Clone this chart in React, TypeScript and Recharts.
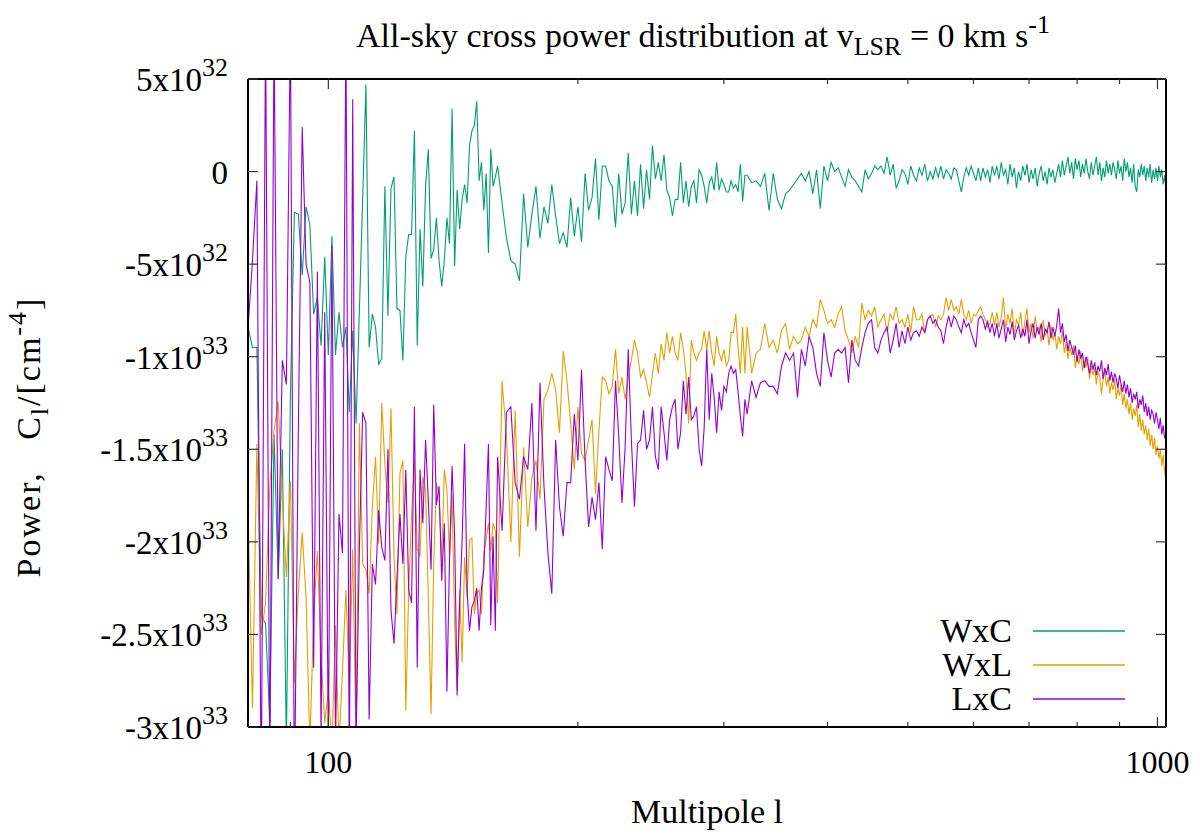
import React from 'react';
import { LineChart, Line, XAxis, YAxis, Legend } from 'recharts';

const FONT = '"Liberation Serif", "Times New Roman", serif';
const GREEN = '#009e73';
const ORANGE = '#e69f00';
const PURPLE = '#9400d3';

// power values are typed in units of 1e32 cm^-4
const UNIT = 1e32;

// segment A: l = 80..159, every multipole
const WXC_A = [
  -8.4, -9.5, -9.5, -24.0, -24.4, -29.7, -14.2, -22.0, -15.0, -31.0,
  -12.0, -2.2, -2.3, -5.6, -1.9, -2.9, -7.7, -6.8, -9.4, -4.6,
  -9.9, -3.5, -9.9, -7.6, -9.5, -8.4, -13.0, -8.6, -13.6, -7.5,
  -1.5, 4.7, -9.5, -7.7, -8.4, -10.4, -10.1, -0.8, -7.8, -0.9,
  -0.3, -7.4, -7.5, -10.2, -4.6, -3.4, -3.4, 2.2, -9.4, -3.1,
  -6.2, -0.8, 1.2, -4.7, -4.2, -2.5, -4.8, -6.2, -4.8, -2.5,
  -3.9, 3.4, -5.1, -1.0, -3.1, -1.5, -0.7, -1.7, 1.4, 2.2,
  2.5, 3.8, -0.5, 0.5, -2.1, -0.1, -4.4, 1.2, -0.8, -0.3,
];
const WXL_A = [
  -18.0, -29.0, -14.7, -25.0, -23.3, -17.0, -14.0, -12.4, -17.7, -21.9,
  -16.7, -27.6, -22.7, -19.5, -23.0, -31.0, -24.0, -20.5, -26.2, -29.8,
  -28.0, -31.0, -24.5, -31.0, -27.0, -22.6, -27.8, -20.4, -31.0, -13.6,
  -21.2, -21.5, -22.8, -18.1, -15.4, -20.1, -12.5, -15.8, -17.9, -12.8,
  -20.8, -23.9, -16.3, -15.6, -29.1, -22.6, -18.6, -15.6, -20.4, -20.8,
  -16.5, -17.2, -23.0, -29.3, -21.2, -16.8, -17.5, -21.2, -16.1, -17.2,
  -20.8, -17.5, -24.4, -28.0, -22.6, -26.5, -20.8, -23.0, -19.9, -19.8,
  -23.9, -22.8, -22.6, -23.9, -20.6, -19.9, -19.0, -20.5, -19.0, -19.4,
];
const LXC_A = [
  -8.5, -4.8, -0.5, -34.0, 8.0, -33.0, 8.0, -22.0, -10.2, -11.5,
  8.0, -34.0, -14.0, 2.4, -5.0, -6.0, -26.8, -5.4, -30.5, -7.6,
  -31.0, -4.0, -31.0, -18.5, -20.6, 8.0, -33.0, 3.9, -31.0, -20.3,
  -13.0, -13.6, -29.6, -21.2, -22.3, -18.3, -20.3, -21.0, -15.0, -23.7,
  -25.5, -21.9, -18.5, -21.2, -16.1, -22.6, -23.3, -12.7, -26.8, -16.1,
  -19.0, -14.5, -17.8, -21.5, -12.6, -18.0, -17.0, -22.1, -19.0, -28.1,
  -21.0, -15.9, -19.7, -28.3, -23.3, -19.9, -14.7, -22.6, -24.8, -23.5,
  -23.2, -22.5, -24.8, -22.5, -21.5, -18.1, -14.7, -24.5, -19.7, -24.8,
];

// segment B: l = 160..318, every 2nd multipole
const WXC_B = [
  0.3, -1.7, -3.6, -4.8, -5.0, -5.9, -1.2, -4.1, -2.3, -0.8,
  -3.6, -1.9, -2.8, -0.7, -2.4, -3.9, -3.3, -4.1, -1.4, -3.5,
  -1.9, -3.8, -0.1, -2.1, -1.4, 0.7, -2.6, 0.3, 0.3, -0.5,
  -0.8, -3.0, -0.1, -2.3, -1.7, 1.0, -2.3, -0.5, -2.4, 0.4,
  -2.0, 0.1, -1.5, 1.4, -0.4, 0.5, -0.5, 0.9, -1.0, -1.4,
  -2.4, -1.5, -1.5, 0.5, -1.7, -0.5, -1.9, -0.8, -0.5, -1.7,
  0.1, -0.2, -0.8, -1.7, -0.6, -0.3, -1.0, 0.5, -1.0, -0.4,
  -0.7, -1.1, -1.1, -0.5, -0.9, -0.7, -1.1, 0.4, -1.6, -0.2,
];
const WXL_B = [
  -23.3, -11.3, -14.3, -20.0, -12.9, -20.8, -14.9, -19.2, -16.5, -15.6,
  -17.7, -12.3, -11.8, -10.9, -11.8, -14.1, -9.7, -11.3, -13.6, -16.1,
  -12.7, -15.2, -15.6, -14.5, -13.4, -17.4, -14.0, -11.1, -11.3, -12.0,
  -11.6, -9.6, -12.0, -11.1, -12.3, -11.1, -10.2, -9.1, -9.8, -11.1,
  -10.7, -11.4, -12.2, -10.9, -9.8, -10.9, -9.3, -10.2, -8.7, -9.8,
  -8.9, -9.8, -10.2, -8.7, -9.6, -10.9, -13.6, -9.1, -9.8, -10.2,
  -9.8, -9.6, -8.6, -9.6, -8.6, -9.8, -10.5, -8.9, -9.8, -10.2,
  -9.6, -10.5, -10.2, -8.7, -8.7, -7.7, -9.5, -10.9, -8.4, -10.9,
];
const LXC_B = [
  -15.4, -19.4, -13.0, -12.7, -16.8, -17.7, -15.4, -16.1, -12.5, -19.4,
  -11.4, -17.0, -20.6, -22.8, -14.5, -18.1, -19.7, -16.8, -16.8, -13.1,
  -15.6, -10.7, -15.6, -19.2, -17.6, -18.8, -16.8, -20.4, -15.4, -16.1,
  -16.7, -11.3, -14.3, -17.9, -14.9, -9.6, -14.5, -18.1, -14.7, -14.5,
  -12.9, -15.0, -14.5, -12.7, -15.4, -16.1, -12.7, -14.1, -15.6, -13.4,
  -12.7, -12.3, -15.0, -14.1, -11.3, -13.1, -11.1, -13.4, -13.2, -12.7,
  -15.0, -15.9, -13.8, -9.6, -13.4, -10.9, -12.2, -14.1, -11.9, -12.9,
  -11.6, -11.9, -10.9, -10.5, -10.9, -10.7, -11.9, -13.2, -14.3, -12.3,
];

// segment C: l = 320..636, every 4th multipole
const WXC_C = [
  -0.2, -0.6, -0.5, -0.8, -0.1, -2.1, -0.1, -1.5, -2.0, -1.2,
  -1.0, -0.7, -0.4, -0.1, -0.5, 0.0, -1.2, 0.1, -2.0, 0.3,
  -0.5, 0.5, 0.0, 0.2, -0.3, -0.8, 0.1, -0.3, -0.5, -0.8,
  -1.1, 0.1, -0.4, -0.1, 0.3, 0.1, 0.3, -0.1, 0.8, -0.2,
  0.4, -0.9, -0.5, 0.1, -0.1, -0.7, 0.3, -0.2, -0.5, 0.2,
  -0.2, 0.4, -0.5, 0.0, -0.4, 0.2, -0.3, 0.3, -0.4, 0.1,
  -0.1, -0.4, 0.2, 0.1, -0.5, -1.1, -0.3, 0.2, -0.2, 0.3,
  -0.1, -0.5, 0.2, -0.5, 0.2, -0.3, 0.1, -0.6, 0.3, -0.2,
];
const WXL_C = [
  -8.4, -10.9, -9.8, -9.6, -8.2, -9.5, -9.1, -9.8, -8.6, -8.2,
  -9.6, -8.9, -9.3, -9.1, -8.4, -8.9, -8.0, -8.4, -6.9, -7.5,
  -8.2, -8.0, -8.4, -7.7, -7.3, -8.6, -9.1, -9.8, -8.9, -9.5,
  -7.1, -8.0, -7.5, -7.8, -7.3, -8.4, -8.0, -7.7, -8.7, -7.7,
  -8.0, -7.3, -8.2, -8.0, -8.4, -7.7, -8.7, -7.3, -8.0, -8.0,
  -7.7, -8.7, -8.0, -7.8, -7.7, -8.4, -7.8, -8.0, -7.7, -6.8,
  -7.5, -6.9, -7.5, -7.3, -7.7, -6.9, -7.7, -8.0, -7.5, -8.2,
  -7.7, -7.8, -7.5, -7.3, -7.7, -8.0, -8.4, -8.2, -7.6, -8.3,
];
const LXC_C = [
  -13.1, -11.3, -12.2, -11.4, -11.3, -11.6, -11.6, -12.0, -10.5, -9.8,
  -10.2, -9.8, -12.2, -9.6, -10.5, -8.9, -9.5, -10.9, -11.6, -8.7,
  -10.2, -11.1, -9.8, -9.6, -9.8, -9.5, -11.4, -9.1, -10.2, -10.5,
  -9.5, -8.7, -8.2, -8.0, -9.5, -9.8, -9.1, -8.7, -8.4, -9.8,
  -9.1, -8.2, -9.5, -8.6, -9.3, -8.4, -9.1, -8.7, -8.6, -8.9,
  -8.4, -8.7, -8.0, -7.8, -8.2, -8.0, -8.4, -8.6, -9.3, -8.4,
  -7.8, -8.4, -7.8, -8.0, -8.4, -8.7, -8.0, -8.4, -8.2, -8.7,
  -9.1, -9.5, -8.0, -7.8, -8.0, -8.5, -8.1, -8.7, -8.2, -8.9,
];

// segment D: l = 640..1024, every 4th multipole
const WXC_D = [
  0.3, -0.4, 0.5, -0.2, 0.1, -0.7, 0.4, -0.3, 0.2, -0.9,
  0.0, -0.5, 0.3, -0.2, 0.4, -0.6, 0.1, -0.4, 0.2, -0.8,
  -0.1, 0.3, -0.5, 0.0, -0.7, 0.2, -0.3, 0.1, -0.6, -0.1,
  0.4, -0.3, 0.6, -0.2, 0.3, 0.8, -0.1, 0.5, -0.4, 0.7,
  0.1, 0.6, -0.3, 0.4, -0.1, 0.7, 0.0, -0.4, 0.5, -0.2,
  0.3, 0.8, -0.2, 0.5, -0.5, 0.2, -0.3, 0.6, -0.1, 0.4,
  -0.2, 0.5, 0.1, -0.4, 0.6, -0.1, 0.3, -0.5, 0.7, 0.0,
  0.5, -0.3, 0.2, -0.6, 0.4, -0.8, -1.1, 0.1, -0.3, 0.4,
  -0.2, 0.3, -0.5, 0.2, -0.3, 0.4, -0.6, 0.1, -0.4, 0.2,
  -0.5, 0.3, -0.3, 0.1, -0.7, -0.2, -1.0,
];
const WXL_D = [
  -7.6, -8.4, -7.9, -6.8, -8.5, -7.7, -8.2, -7.4, -8.8, -8.0,
  -8.3, -7.6, -8.9, -8.1, -7.4, -8.7, -8.2, -9.0, -7.8, -8.6,
  -8.4, -9.2, -8.0, -8.9, -8.5, -9.4, -8.3, -9.1, -8.7, -9.6,
  -8.9, -9.3, -8.6, -9.8, -9.2, -10.1, -9.5, -9.9, -9.4, -10.6,
  -9.9, -10.4, -9.7, -10.8, -10.2, -10.6, -10.0, -11.2, -10.5, -11.0,
  -10.6, -11.5, -10.8, -11.1, -12.0, -11.2, -10.7, -11.6, -11.1, -12.0,
  -11.4, -11.8, -11.2, -12.3, -11.7, -12.1, -11.5, -12.6, -12.0, -12.8,
  -12.3, -13.1, -12.5, -13.4, -12.8, -13.2, -12.6, -13.8, -13.1, -14.0,
  -13.4, -14.2, -13.7, -14.5, -13.9, -14.8, -14.2, -15.0, -14.4, -15.3,
  -14.8, -15.5, -15.0, -15.9, -15.3, -16.2, -16.6,
];
const LXC_D = [
  -8.2, -9.0, -8.5, -8.0, -9.2, -8.4, -8.8, -8.1, -9.1, -8.6,
  -8.3, -9.0, -8.5, -8.9, -8.0, -9.3, -8.6, -8.2, -9.0, -8.4,
  -8.8, -8.2, -9.1, -8.5, -8.7, -8.1, -9.0, -8.4, -8.9, -8.3,
  -7.4, -8.7, -8.2, -9.2, -8.8, -9.7, -9.1, -9.5, -9.9, -9.4,
  -10.3, -9.6, -10.1, -9.8, -10.6, -10.0, -10.4, -10.9, -10.2, -10.7,
  -10.3, -11.0, -10.5, -10.8, -10.2, -11.2, -10.6, -11.0, -10.4, -11.3,
  -10.8, -11.4, -10.9, -11.2, -11.7, -11.0, -11.5, -11.9, -11.3, -12.0,
  -11.5, -12.2, -11.7, -12.5, -12.0, -12.3, -11.9, -12.8, -12.3, -12.6,
  -12.1, -13.0, -12.5, -13.2, -12.7, -13.4, -12.9, -13.1, -13.6, -13.0,
  -13.4, -13.9, -13.3, -14.2, -13.7, -14.4, -14.1,
];

const SEGMENTS = [
  { start: 80, step: 1, wxc: WXC_A, wxl: WXL_A, lxc: LXC_A },
  { start: 160, step: 2, wxc: WXC_B, wxl: WXL_B, lxc: LXC_B },
  { start: 320, step: 4, wxc: WXC_C, wxl: WXL_C, lxc: LXC_C },
  { start: 640, step: 4, wxc: WXC_D, wxl: WXL_D, lxc: LXC_D },
];

const X_TICKS = [90, 100, 200, 300, 400, 500, 600, 700, 800, 900, 1000];
const X_LABELED = [100, 1000];
const Y_TICKS = [-3e33, -2.5e33, -2e33, -1.5e33, -1e33, -5e32, 0, 5e32];

const LEGEND_ITEMS = [
  { name: 'WxC', color: GREEN },
  { name: 'WxL', color: ORANGE },
  { name: 'LxC', color: PURPLE },
];

const data = SEGMENTS.flatMap((s) =>
  s.wxc.map((v, i) => ({
    l: s.start + i * s.step,
    wxc: v * UNIT,
    wxl: s.wxl[i] * UNIT,
    lxc: s.lxc[i] * UNIT,
  }))
);

function splitPower(v: number) {
  if (v === 0) return { mant: '0', exp: '' };
  const exp = Math.floor(Math.log10(Math.abs(v)) + 1e-9);
  const mant = +(v / Math.pow(10, exp)).toFixed(2);
  return { mant: `${mant}x10`, exp: String(exp) };
}

const TICK_STROKE = '#333';

function XTickBottom({ x, y, payload }: any) {
  const major = X_LABELED.includes(payload.value);
  return (
    <g>
      <line x1={x} y1={y} x2={x} y2={y - (major ? 10 : 5)} stroke={TICK_STROKE} strokeWidth={1.2} />
      {major && (
        <text x={x} y={y + 46} textAnchor="middle" fontFamily={FONT} fontSize={32} fill="#000">
          {payload.value}
        </text>
      )}
    </g>
  );
}

function XTickTop({ x, y, payload }: any) {
  const major = X_LABELED.includes(payload.value);
  return <line x1={x} y1={y} x2={x} y2={y + (major ? 10 : 5)} stroke={TICK_STROKE} strokeWidth={1.2} />;
}

function YTickLeft({ x, y, payload }: any) {
  const { mant, exp } = splitPower(payload.value);
  return (
    <g>
      <line x1={x} y1={y} x2={x + 10} y2={y} stroke={TICK_STROKE} strokeWidth={1.2} />
      <text x={x - 20} y={y + 12} textAnchor="end" fontFamily={FONT} fontSize={33} fill="#000">
        {mant}
        {exp && (
          <tspan dy={-15} fontSize={26}>
            {exp}
          </tspan>
        )}
      </text>
    </g>
  );
}

function YTickRight({ x, y }: any) {
  return <line x1={x} y1={y} x2={x - 10} y2={y} stroke={TICK_STROKE} strokeWidth={1.2} />;
}

function TitleLabel({ viewBox }: any) {
  const cx = viewBox.x + viewBox.width / 2;
  return (
    <text x={cx - 4} y={viewBox.y - 22} textAnchor="middle" fontFamily={FONT} fontSize={34} fill="#000" style={{ whiteSpace: 'pre' }}>
      All-sky cross power distribution at v
      <tspan dy={8} fontSize={26}>LSR</tspan>
      <tspan dy={-8}> = 0 km s</tspan>
      <tspan dy={-14} fontSize={26}>-1</tspan>
    </text>
  );
}

function XLabel({ viewBox }: any) {
  return (
    <text x={viewBox.x + viewBox.width / 2} y={823} textAnchor="middle" fontFamily={FONT} fontSize={34} fill="#000">
      Multipole l
    </text>
  );
}

function YLabel({ viewBox }: any) {
  const x = 40;
  const y = viewBox.y + viewBox.height / 2 + 34;
  return (
    <text
      x={x}
      y={y}
      transform={`rotate(-90, ${x}, ${y})`}
      textAnchor="middle"
      fontFamily={FONT}
      fontSize={34}
      fill="#000"
      style={{ whiteSpace: 'pre', letterSpacing: 2 }}
    >
      Power,   C
      <tspan dy={8} fontSize={26}>l</tspan>
      <tspan dy={-8}>/[cm</tspan>
      <tspan dy={-14} fontSize={26}>-4</tspan>
      <tspan dy={14}>]</tspan>
    </text>
  );
}

function renderLegend() {
  return (
    <svg width={220} height={110}>
      {LEGEND_ITEMS.map((item, i) => (
        <g key={item.name}>
          <text x={72} y={32 + i * 34} textAnchor="end" fontFamily={FONT} fontSize={34} fill="#000">
            {item.name}
          </text>
          <line x1={93} x2={185} y1={21 + i * 34} y2={21 + i * 34} stroke={item.color} strokeWidth={1.3} />
        </g>
      ))}
    </svg>
  );
}

export default function App() {
  return (
    <div style={{ position: 'absolute', left: 0, top: 0, width: 1200, height: 837, background: '#fff' }}>
      <LineChart width={1200} height={837} data={data} margin={{ top: 69, right: 24, bottom: 50, left: 188 }}>
        <XAxis
          dataKey="l"
          type="number"
          scale="log"
          domain={[80, 1024]}
          allowDataOverflow
          ticks={X_TICKS}
          interval={0}
          height={60}
          tickSize={0}
          tickMargin={0}
          tickLine={false}
          tick={XTickBottom}
          axisLine={{ stroke: '#000', strokeWidth: 2 }}
          label={XLabel}
        />
        <XAxis
          xAxisId="top"
          orientation="top"
          dataKey="l"
          type="number"
          scale="log"
          domain={[80, 1024]}
          allowDataOverflow
          ticks={X_TICKS}
          interval={0}
          height={10}
          tickSize={0}
          tickMargin={0}
          tickLine={false}
          tick={XTickTop}
          axisLine={{ stroke: '#000', strokeWidth: 2 }}
          label={TitleLabel}
        />
        <YAxis
          type="number"
          domain={[-3e33, 5e32]}
          allowDataOverflow
          ticks={Y_TICKS}
          interval={0}
          width={60}
          tickSize={0}
          tickMargin={0}
          tickLine={false}
          tick={YTickLeft}
          axisLine={{ stroke: '#000', strokeWidth: 2 }}
          label={YLabel}
        />
        <YAxis
          yAxisId="right"
          orientation="right"
          type="number"
          domain={[-3e33, 5e32]}
          allowDataOverflow
          ticks={Y_TICKS}
          interval={0}
          width={10}
          tickSize={0}
          tickMargin={0}
          tickLine={false}
          tick={YTickRight}
          axisLine={{ stroke: '#000', strokeWidth: 2 }}
        />
        <Legend
          layout="horizontal"
          verticalAlign="middle"
          align="center"
          wrapperStyle={{ left: 940, top: 610, width: 220, height: 110 }}
          content={renderLegend}
        />
        <Line type="linear" dataKey="wxc" name="WxC" stroke={GREEN} strokeWidth={1.1} dot={false} isAnimationActive={false} />
        <Line type="linear" dataKey="wxl" name="WxL" stroke={ORANGE} strokeWidth={1.1} dot={false} isAnimationActive={false} />
        <Line type="linear" dataKey="lxc" name="LxC" stroke={PURPLE} strokeWidth={1.1} dot={false} isAnimationActive={false} />
      </LineChart>
    </div>
  );
}
